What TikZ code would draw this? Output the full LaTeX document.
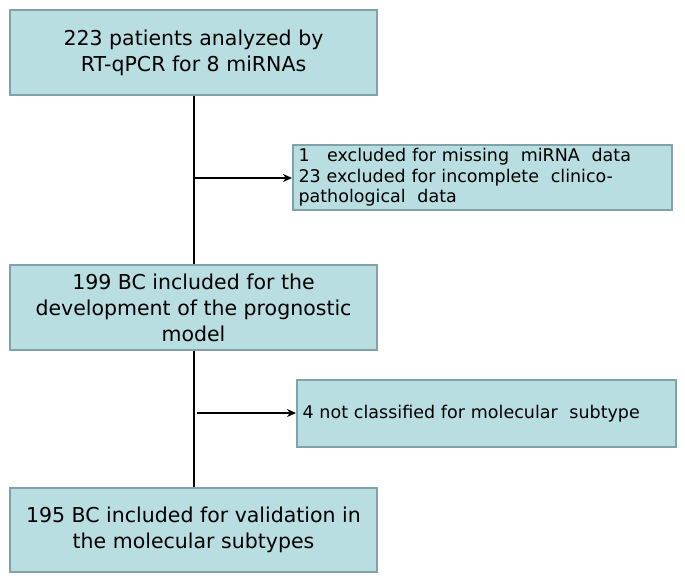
\documentclass[tikz,border=0pt]{standalone}
\usepackage{fontspec}
\setmainfont{DejaVu Sans}
\usetikzlibrary{arrows.meta}
\begin{document}
\begin{tikzpicture}[x=1pt,y=-1pt,
  box/.style={line width=2pt,align=center,inner sep=0pt},
  big/.style={box,font=\fontsize{20.5}{26}\selectfont},
  small/.style={box,font=\fontsize{17.5}{20.5}\selectfont,align=left,inner xsep=4pt},
  conn/.style={line width=2pt,black},
  arr/.style={conn,-{Stealth[length=9pt,width=8pt]}}]
\useasboundingbox (0,0) rectangle (685,581);
\definecolor{bf}{RGB}{184,222,225}\definecolor{bd}{RGB}{128,162,168}
\tikzset{box/.append style={fill=bf,draw=bd}}
\node[big,minimum width=367,minimum height=85] (a) at (193.5,52.5) {223 patients analyzed by\\RT-qPCR for 8 miRNAs};
\node[small,minimum width=379,minimum height=65,text width=368] (e1) at (482.5,177.5) {1\ \ \ excluded for missing\ \ miRNA\ \ data\\23 excluded for incomplete\ \ clinico-\\pathological\ \ data};
\node[big,minimum width=367,minimum height=85] (b) at (193.5,307.5) {199 BC included for the\\development of the prognostic\\model};
\node[small,minimum width=379,minimum height=67,text width=368] (e2) at (486.5,413.5) {4 not classified for molecular\ \ subtype};
\node[big,minimum width=367,minimum height=84] (c) at (193.5,530) {195 BC included for validation in\\the molecular subtypes};
\draw[conn] (a.south) -- (b.north);
\draw[conn] (b.south) -- (c.north);
\coordinate (j1) at (193,178);
\coordinate (j2) at (197,413);
\draw[arr] (j1) -- (j1 -| e1.west);
\draw[arr] (j2) -- (j2 -| e2.west);
\end{tikzpicture}
\end{document}
